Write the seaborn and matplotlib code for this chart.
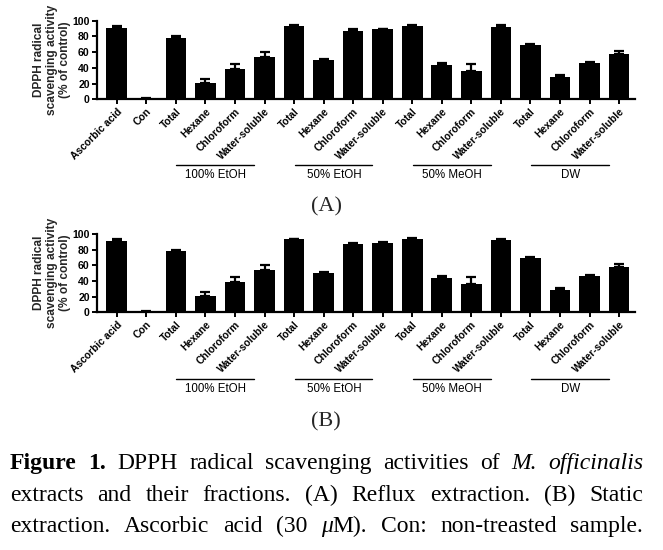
import numpy as np
import pandas as pd
import matplotlib
matplotlib.use("Agg")
import matplotlib.pyplot as plt
import matplotlib.transforms as mtransforms
import seaborn as sns

# ---------------- data ----------------
fractions = ["Total", "Hexane", "Chloroform", "Water-soluble"]
groups = ["100% EtOH", "50% EtOH", "50% MeOH", "DW"]
categories = ["Ascorbic acid", "Con"] + fractions * 4

values_A = [91, 1, 78, 21, 39, 54, 93, 50, 87.5, 89, 93.5, 44, 36.5, 92.5, 69, 28, 46.5, 57.5]
errors_A = [2.5, 0.5, 2, 5, 6, 6, 1, 1.5, 1.5, 1, 1, 2.5, 8, 1.5, 1.5, 3, 1.5, 4]
values_B = [91, 1, 78, 21, 39, 54, 93, 50, 87.5, 89, 93.5, 44, 36.5, 92.5, 69, 28, 46.5, 57.5]
errors_B = [2.5, 0.5, 2, 5, 6, 6, 1, 1.5, 1.5, 1, 1, 2.5, 8, 1.5, 1.5, 3, 1.5, 4]

yticks = [0, 20, 40, 60, 80, 100]
ylabel = "DPPH radical\nscavenging activity\n(% of control)"
panel_labels = ["(A)", "(B)"]

sns.set_theme(style="ticks")
plt.rcParams["font.family"] = ["Liberation Sans", "DejaVu Sans"]

W, H = 663, 550
fig = plt.figure(figsize=(W / 100, H / 100), dpi=100)


def fx(px):
    return px / W


def fy(py):
    return 1 - py / H


keys = [f"{i}_{c}" for i, c in enumerate(categories)]


def draw_panel(ax, values, errors, line_y, text_y):
    df = pd.DataFrame({"key": keys, "value": values})
    sns.barplot(data=df, x="key", y="value", order=keys, color="black",
                width=0.7, errorbar=None, ax=ax, saturation=1,
                edgecolor="black", linewidth=0)
    x = np.arange(len(keys))
    ax.errorbar(x, values, yerr=[np.zeros(len(values)), errors], fmt="none",
                ecolor="black", elinewidth=1.6, capsize=3.5, capthick=1.6)
    ax.set_ylim(0, 100)
    ax.set_xlim(-0.68, len(keys) - 1 + 0.54)
    ax.set_yticks(yticks)
    ax.set_yticklabels([str(t) for t in yticks], fontsize=7.6, fontweight="bold")
    ax.set_xticks(x)
    ax.set_xticklabels(categories, rotation=45, ha="right",
                       rotation_mode="anchor", fontsize=7.4, fontweight="bold")
    ax.set_xlabel("")
    ax.set_ylabel(ylabel, fontsize=8.6, fontweight="bold", linespacing=1.1,
                  labelpad=1)
    for s in ["top", "right"]:
        ax.spines[s].set_visible(False)
    for s in ["left", "bottom"]:
        ax.spines[s].set_linewidth(1.6)
        ax.spines[s].set_color("black")
    ax.tick_params(axis="both", length=3.5, width=1.4, color="black",
                   pad=1.5, labelcolor="black")
    trans = mtransforms.blended_transform_factory(ax.transData, fig.transFigure)
    for gi, g in enumerate(groups):
        start = 2 + gi * 4
        ax.plot([start + 0.02, start + 2.65], [line_y, line_y], transform=trans,
                color="black", lw=1.0, clip_on=False)
        ax.text(start + 1.35, text_y, g, transform=trans, ha="center",
                va="center", fontsize=8.3, color="black")


axA = fig.add_axes([fx(96.7), fy(99.3), fx(635 - 96.7), (99.3 - 20.7) / H])
draw_panel(axA, values_A, errors_A, fy(164.7), fy(175.5))
axB = fig.add_axes([fx(96.7), fy(312.3), fx(635 - 96.7), (312.3 - 234) / H])
draw_panel(axB, values_B, errors_B, fy(378.7), fy(388.5))

serif = ["Liberation Serif", "DejaVu Serif"]
fig.text(fx(326), fy(207), panel_labels[0], ha="center", va="center",
         fontsize=16, family=serif)
fig.text(fx(326), fy(422), panel_labels[1], ha="center", va="center",
         fontsize=16, family=serif)

# ---------------- justified caption ----------------
caption_lines = [
    [[("Figure", "bold")], [("1.", "bold")], [("DPPH", "")], [("radical", "")],
     [("scavenging", "")], [("activities", "")], [("of", "")],
     [("M.", "italic")], [("officinalis", "italic")]],
    [[(w, "")] for w in "extracts and their fractions. (A) Reflux extraction. (B) Static".split()],
    [[("extraction.", "")], [("Ascorbic", "")], [("acid", "")], [("(30", "")],
     [("\u03bc", "italic"), ("M).", "")], [("Con:", "")], [("non-treasted", "")],
     [("sample.", "")]],
]
baselines = [469, 501, 532]
cap_left, cap_right = 10, 643
cap_size = 17

renderer = fig.canvas.get_renderer()


def style_kw(st):
    kw = dict(fontsize=cap_size, family=serif, color="black")
    if st == "bold":
        kw["fontweight"] = "bold"
    if st == "italic":
        kw["fontstyle"] = "italic"
    return kw


def seg_width(txt, st):
    t = fig.text(0, 0, txt, **style_kw(st))
    w = t.get_window_extent(renderer=renderer).width
    t.remove()
    return w


for words, base in zip(caption_lines, baselines):
    widths = [sum(seg_width(s, st) for s, st in wd) for wd in words]
    gap = (cap_right - cap_left - sum(widths)) / (len(words) - 1)
    xpos = cap_left
    for wd, w in zip(words, widths):
        xs = xpos
        for s, st in wd:
            fig.text(fx(xs), fy(base), s, ha="left", va="baseline", **style_kw(st))
            xs += seg_width(s, st)
        xpos += w + gap

fig.savefig("out.png", dpi=100)
